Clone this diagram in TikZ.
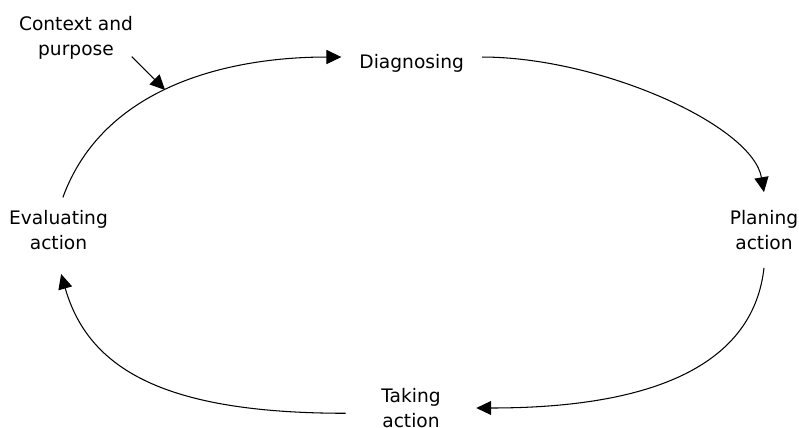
\documentclass[tikz,border=0pt]{standalone}
\usepackage{fontspec}
\setmainfont{DejaVu Sans}
\usetikzlibrary{arrows.meta}
\usetikzlibrary{positioning}

\begin{document}
\begin{tikzpicture}[x=0.02cm,y=0.02cm,-{Triangle[length=8.5pt,width=8pt]},semithick]
 		\tikzstyle{stage}=[align=center, inner sep=10pt, font=\fontsize{10.6}{14.3}\selectfont]
		\useasboundingbox (0,0) rectangle (799,427);
			\node[stage] (diag) at (411.7,364) {Diagnosing};
			\node[stage] (plan) at (764,197) {Planing\\action};
			\node[stage, inner xsep=20pt] (take) at (411,19) {Taking\\action};
			\node[stage] (eval) at (58.5,197) {Evaluating\\action};
			\node[stage, inner sep=1pt] (ctx) at (76,389) {Context and\\purpose};

			% the cycle
			\draw ([xshift=2.5pt,yshift=-3pt]eval.north) .. controls +(40,110) and +(-115,0) .. ([yshift=3.4pt]diag.west)
				coordinate[pos=0.47] (entry);
			\draw ([yshift=3.4pt]diag.east) .. controls +(118,0) and +(-11.6,67) .. (plan.north);
			\draw (plan.south) .. controls +(-10,-90) and +(190,0) .. (take.east);
			\draw ([yshift=-3pt]take.west) .. controls +(-180,0) and +(27.6,-96) .. ([xshift=1.5pt,yshift=-3.5pt]eval.south);

			\draw ([xshift=-2pt,yshift=3pt]ctx.south east) -- (entry);
 	\end{tikzpicture}
\end{document}
